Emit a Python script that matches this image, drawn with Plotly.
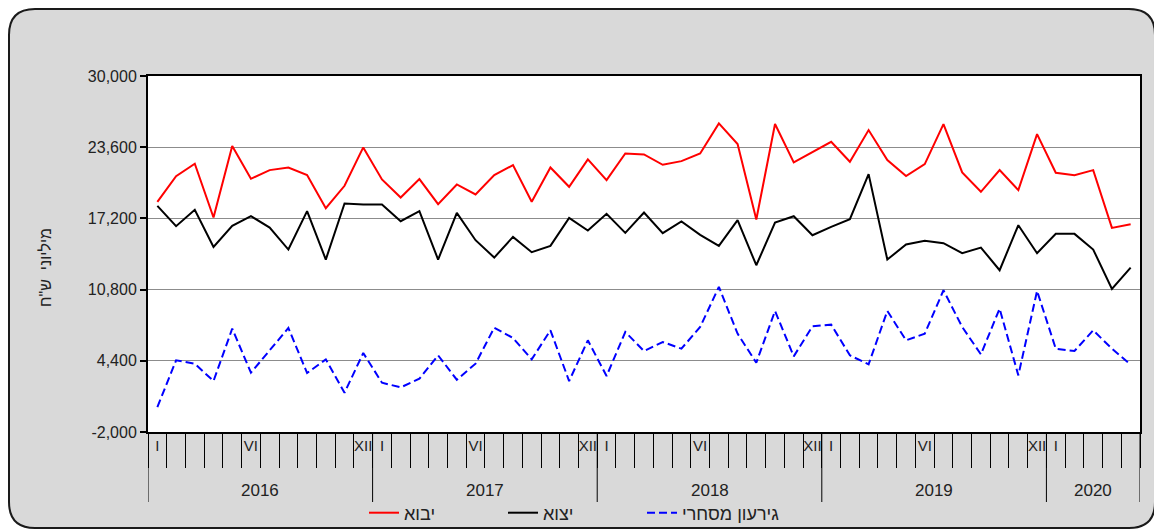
import plotly.graph_objects as go

# ---------------- data ----------------
years = ["2016", "2017", "2018", "2019", "2020"]
months_per_year = [12, 12, 12, 12, 5]
roman = ["I", "II", "III", "IV", "V", "VI", "VII", "VIII", "IX", "X", "XI", "XII"]
shown_months = ["I", "VI", "XII"]

imports = [18690, 21000, 22110, 17280, 23700, 20760, 21540, 21780, 21090, 18120, 20130, 23580,
           20700, 19080, 20730, 18480, 20250, 19350, 21090, 21990, 18690, 21780, 20040, 22500,
           20640, 23040, 22950, 22020, 22350, 23040, 25740, 23880, 17100, 25680, 22230, 23190,
           24090, 22290, 25140, 22440, 21000, 22080, 25680, 21330, 19590, 21540, 19740, 24780,
           21300, 21090, 21540, 16350, 16680]
exports = [18330, 16500, 17970, 14640, 16530, 17400, 16380, 14400, 17850, 13500, 18540, 18450,
           18450, 16950, 17850, 13500, 17700, 15240, 13680, 15540, 14160, 14730, 17250, 16110,
           17610, 15900, 17730, 15870, 16920, 15720, 14730, 17040, 12990, 16830, 17400, 15690,
           16440, 17130, 21180, 13500, 14850, 15180, 14970, 14070, 14580, 12540, 16590, 14070,
           15810, 15810, 14400, 10860, 12780]
deficit = [240, 4440, 4140, 2580, 7290, 3330, 5340, 7350, 3300, 4530, 1530, 5100,
           2430, 2010, 2790, 4890, 2700, 4140, 7380, 6450, 4530, 7140, 2580, 6240,
           3030, 6990, 5280, 6090, 5490, 7440, 11040, 6840, 4230, 8880, 4800, 7500,
           7650, 4890, 4080, 8880, 6240, 6840, 10740, 7440, 4980, 9090, 3090, 10680,
           5490, 5280, 7140, 5490, 4050]
y_ticks = [-2000, 4400, 10800, 17200, 23600, 30000]
y_tick_text = ["-2,000", "4,400", "10,800", "17,200", "23,600", "30,000"]

series_names = ["יבוא", "יצוא", "גירעון מסחרי"]
y_title = 'מיליוני  ש"ח'

# ---------------- categories ----------------
cats, labels = [], []
for yr, n in zip(years, months_per_year):
    for m in range(n):
        cats.append(f"{yr}-{m + 1:02d}")
        labels.append(roman[m] if roman[m] in shown_months else "")

# ---------------- layout geometry (screen pixels, page has 8px body margin) ----------------
OFF = 8
W, H = 1162 - OFF, 531 - OFF
L, R, T, B = 148 - OFF, 1140 - OFF, 76 - OFF, 432 - OFF
pw, ph = R - L, B - T


def px(x):  # screen x -> paper
    return (x - OFF - L) / pw


def py(y):  # screen y -> paper
    return (B - (y - OFF)) / ph


FONT = "Liberation Sans, Arial, sans-serif"

fig = go.Figure()
fig.add_trace(go.Scatter(x=cats, y=imports, name=series_names[0], mode="lines",
                         line=dict(color="#ff0000", width=2)))
fig.add_trace(go.Scatter(x=cats, y=exports, name=series_names[1], mode="lines",
                         line=dict(color="#000000", width=2)))
fig.add_trace(go.Scatter(x=cats, y=deficit, name=series_names[2], mode="lines", xaxis="x2",
                         line=dict(color="#0000ff", width=2, dash="8px,4px")))

# rounded gray frame
bx0, by0, bx1, by1, r = 9, 9, 1155, 528, 26
pts = [("M", bx0 + r, by0), ("L", bx1 - r, by0), ("Q", bx1, by0, bx1, by0 + r),
       ("L", bx1, by1 - r), ("Q", bx1, by1, bx1 - r, by1), ("L", bx0 + r, by1),
       ("Q", bx0, by1, bx0, by1 - r), ("L", bx0, by0 + r), ("Q", bx0, by0, bx0 + r, by0)]
path = ""
for p in pts:
    coords = p[1:]
    s = " ".join(f"{px(coords[i]):.5f},{py(coords[i + 1]):.5f}" for i in range(0, len(coords), 2))
    path += f"{p[0]} {s} "
path += "Z"
shapes = [dict(type="path", path=path, xref="paper", yref="paper", layer="below",
               fillcolor="#d9d9d9", line=dict(color="#1a1a1a", width=2)),
          dict(type="rect", xref="paper", yref="paper", x0=0, x1=1, y0=0, y1=1,
               layer="below", fillcolor="white", line=dict(width=0))]

# year separators and year labels
annotations = []
start = 0
bounds = [-0.5]
for yr, n in zip(years, months_per_year):
    end = start + n
    bounds.append(end - 0.5)
    annotations.append(dict(x=(start + end - 1) / 2, xref="x", y=py(490), yref="paper",
                            text=yr, showarrow=False, font=dict(family=FONT, size=17, color="#222"),
                            xanchor="center", yanchor="middle"))
    start = end
for b in bounds:
    shapes.append(dict(type="line", xref="x", yref="paper", x0=b, x1=b, y0=0, y1=py(502),
                       line=dict(color="black", width=1)))

annotations.append(dict(x=px(45), y=py(268), xref="paper", yref="paper", text=y_title,
                        textangle=-90, showarrow=False,
                        font=dict(family=FONT, size=16, color="#222"),
                        xanchor="center", yanchor="middle"))

fig.update_layout(
    width=W, height=H,
    margin=dict(l=L, r=W - R, t=T, b=H - B, autoexpand=False),
    paper_bgcolor="white", plot_bgcolor="white",
    font=dict(family=FONT, size=16, color="#222"),
    showlegend=True,
    legend=dict(orientation="h", x=px(364), xanchor="left", y=py(513), yanchor="middle",
                entrywidth=94, entrywidthmode="pixels",
                bgcolor="rgba(0,0,0,0)", font=dict(family=FONT, size=18, color="#222")),
    shapes=shapes, annotations=annotations,
)
# axis with long month tick marks (no labels)
fig.update_layout(xaxis=dict(
    type="category", categoryorder="array", categoryarray=cats,
    tickmode="array", tickvals=cats, ticktext=labels,
    ticks="outside", ticklen=34, tickwidth=1, tickcolor="black",
    tickson="boundaries", showticklabels=False,
    showline=True, linewidth=2, linecolor="black", mirror=True,
    showgrid=False, range=[-0.5, len(cats) - 0.5]))
# overlaid axis carrying the month labels (I, VI, XII)
fig.update_layout(xaxis2=dict(
    type="category", categoryorder="array", categoryarray=cats,
    overlaying="x", anchor="y", side="bottom",
    tickmode="array", tickvals=cats, ticktext=labels, tickangle=0,
    ticks="", showline=False, showgrid=False, zeroline=False,
    ticklabelstandoff=3,
    range=[-0.5, len(cats) - 0.5],
    tickfont=dict(family=FONT, size=15, color="#222")))
fig.update_yaxes(range=[-2000, 30000], tickmode="array", tickvals=y_ticks, ticktext=y_tick_text,
                 ticks="outside", ticklen=6, tickwidth=2, tickcolor="black",
                 showline=True, linewidth=2, linecolor="black", mirror=True,
                 showgrid=True, gridcolor="#8c8c8c", gridwidth=1, zeroline=False,
                 tickfont=dict(family=FONT, size=16, color="#222"))

fig.write_html("out.html")
